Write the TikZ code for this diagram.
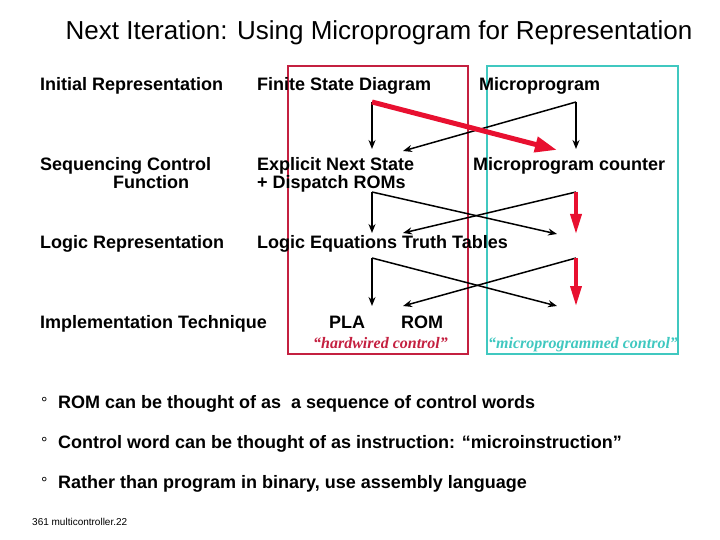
\documentclass[tikz,border=0pt]{standalone}
\usepackage{fontspec}
\setmainfont{Liberation Sans}
\newfontfamily\quotefont{Liberation Serif}
\usetikzlibrary{arrows.meta}
\definecolor{hwred}{RGB}{196,32,64}
\definecolor{mpteal}{RGB}{64,200,192}
\definecolor{arrred}{RGB}{232,16,48}

\begin{document}
\begin{tikzpicture}[x=1pt, y=-1pt,
    lbl/.style={anchor=base west, inner sep=0pt, font=\bfseries\fontsize{18}{18}\selectfont},
    quot/.style={anchor=base west, inner sep=0pt, font=\quotefont\bfseries\itshape\fontsize{16}{16}\selectfont},
    arr/.style={line width=1.5pt, -{Stealth[length=9pt,width=7pt]}},
    redarr/.style={arrred, line width=3.5pt, -{Triangle[length=20pt,width=11pt]}}]
    \useasboundingbox (0,0) rectangle (720,540);

    \node[anchor=base, inner sep=0pt, font=\fontsize{26}{26}\selectfont] (title) at (379,40)
        {Next Iteration: Using Microprogram for Representation};

    % the two columns
    \draw[hwred, line width=2pt] (288,66) rectangle (468,354);
    \draw[mpteal, line width=2pt] (487,66) rectangle (678,354);

    \node[lbl] (init) at (40,91) {Initial Representation};
    \node[lbl] (fsd) at (257,91) {Finite State Diagram};
    \node[lbl] (mp) at (479,91) {Microprogram};
    \node[lbl] (seq) at (40,171) {Sequencing Control};
    \node[lbl] (fun) at (113,189) {Function};
    \node[lbl] (ens) at (257,171) {Explicit Next State};
    \node[lbl] (disp) at (257,189) {+ Dispatch ROMs};
    \node[lbl] (mpc) at (473,171) {Microprogram counter};
    \node[lbl] (logrep) at (40,248) {Logic Representation};
    \node[lbl] (leq) at (257,248) {Logic Equations Truth Tables};
    \node[lbl] (impl) at (40,328) {Implementation Technique};
    \node[lbl] (pla) at (329,328) {PLA};
    \node[lbl] (rom) at (401,328) {ROM};
    \node[quot, hwred] (hw) at (313,348) {“hardwired control”};
    \node[quot, mpteal] (mprog) at (488,348) {“microprogrammed control”};

    % arrow ends
    \coordinate (fsdS) at (372,102);
    \coordinate (mpS) at (576,102);
    \coordinate (ensN) at (372,149);
    \coordinate (ensNE) at (403,151);
    \coordinate (mpcNW) at (557,150);
    \coordinate (mpcN) at (576,149);
    \coordinate (ensS) at (372,192);
    \coordinate (mpcS) at (576,192);
    \coordinate (leqN) at (372,233);
    \coordinate (leqNE) at (403,233);
    \coordinate (midW) at (557,234);
    \coordinate (midN) at (576,234);
    \coordinate (leqS) at (372,258);
    \coordinate (midS) at (576,258);
    \coordinate (plaN) at (372,306);
    \coordinate (romN) at (403,306);
    \coordinate (botW) at (557,306);
    \coordinate (botN) at (576,306);

    \draw[arr] (fsdS) -- (ensN);
    \draw[arr] (mpS) -- (mpcN);
    \draw[arr] (mpS) -- (ensNE);
    \draw[arr] (ensS) -- (leqN);
    \draw[arr] (ensS) -- (midW);
    \draw[arr] (mpcS) -- (leqNE);
    \draw[arr] (leqS) -- (plaN);
    \draw[arr] (leqS) -- (botW);
    \draw[arr] (midS) -- (romN);
    \draw[redarr, line width=5pt, -{Triangle[length=22pt,width=15pt]}] (fsdS) -- (mpcNW);
    \draw[redarr] (mpcS) -- (midN);
    \draw[redarr] (midS) -- (botN);

    % remarks
    \foreach \y/\txt [count=\i] in {408/ROM can be thought of as\ \ a sequence of control words,
        448/Control word can be thought of as instruction: “microinstruction”,
        488/Rather than program in binary{,} use assembly language} {
        \node[lbl, font=\fontsize{16}{16}\selectfont] (dot\i) at (41,\y) {°};
        \node[lbl] (note\i) at (58,\y) {\txt};
    }
    \node[anchor=base west, inner sep=0pt, font=\fontsize{10}{10}\selectfont] (foot) at (32,525)
        {361 multicontroller.22};
\end{tikzpicture}
\end{document}
